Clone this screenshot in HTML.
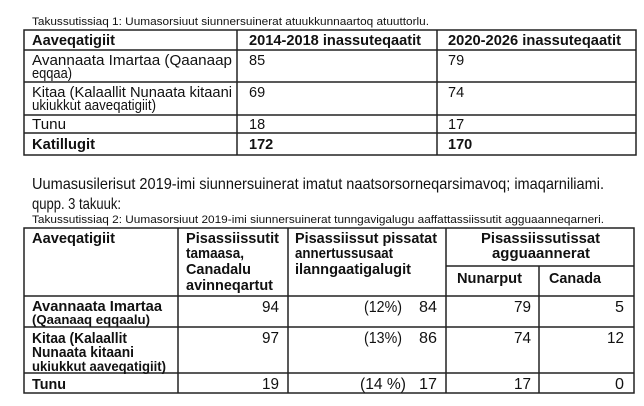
<!DOCTYPE html>
<html><head><meta charset="utf-8"><style>
html,body{margin:0;padding:0;background:#fff;}
svg{display:block;font-family:"Liberation Sans",Arial,sans-serif;fill:#111;}
.b{font-weight:bold;}
</style></head><body>
<svg width="644" height="406" viewBox="0 0 644 406" xmlns="http://www.w3.org/2000/svg">
<g stroke="#222" stroke-width="1.5" fill="none">
<rect x="24" y="30" width="612" height="125"/>
<line x1="237" y1="30" x2="237" y2="155"/>
<line x1="437" y1="30" x2="437" y2="155"/>
<line x1="24" y1="50" x2="636" y2="50"/>
<line x1="24" y1="82" x2="636" y2="82"/>
<line x1="24" y1="115" x2="636" y2="115"/>
<line x1="24" y1="133" x2="636" y2="133"/>
<rect x="24" y="228" width="610" height="165"/>
<line x1="178" y1="228" x2="178" y2="393"/>
<line x1="288" y1="228" x2="288" y2="393"/>
<line x1="446" y1="228" x2="446" y2="393"/>
<line x1="539" y1="266" x2="539" y2="393"/>
<line x1="446" y1="266" x2="634" y2="266"/>
<line x1="24" y1="296" x2="634" y2="296"/>
<line x1="24" y1="327" x2="634" y2="327"/>
<line x1="24" y1="373" x2="634" y2="373"/>
</g>
<g font-size="11">
<text x="32" y="25" textLength="397" lengthAdjust="spacingAndGlyphs">Takussutissiaq 1: Uumasorsiuut siunnersuinerat atuukkunnaartoq atuuttorlu.</text>
<text x="32" y="223" textLength="572" lengthAdjust="spacingAndGlyphs">Takussutissiaq 2: Uumasorsiuut 2019-imi siunnersuinerat tunngavigalugu aaffattassiissutit agguaanneqarneri.</text>
</g>
<g font-size="14.5">
<text class="b" x="32" y="45" textLength="83" lengthAdjust="spacingAndGlyphs">Aaveqatigiit</text>
<text class="b" x="249" y="45" textLength="172" lengthAdjust="spacingAndGlyphs">2014-2018 inassuteqaatit</text>
<text class="b" x="448" y="45" textLength="173" lengthAdjust="spacingAndGlyphs">2020-2026 inassuteqaatit</text>
<text x="32" y="65" textLength="200" lengthAdjust="spacingAndGlyphs">Avannaata  Imartaa  (Qaanaap</text>
<text x="32" y="78" textLength="40" lengthAdjust="spacingAndGlyphs">eqqaa)</text>
<text x="249" y="65">85</text><text x="448" y="65">79</text>
<text x="32" y="97" textLength="200" lengthAdjust="spacingAndGlyphs">Kitaa (Kalaallit Nunaata kitaani</text>
<text x="32" y="110" textLength="124" lengthAdjust="spacingAndGlyphs">ukiukkut aaveqatigiit)</text>
<text x="249" y="97">69</text><text x="448" y="97">74</text>
<text x="32" y="129" textLength="34" lengthAdjust="spacingAndGlyphs">Tunu</text><text x="249" y="129">18</text><text x="448" y="129">17</text>
<text class="b" x="32" y="149" textLength="63" lengthAdjust="spacingAndGlyphs">Katillugit</text><text class="b" x="249" y="149">172</text><text class="b" x="448" y="149">170</text>
</g>
<g font-size="16">
<text x="32" y="189" textLength="572" lengthAdjust="spacingAndGlyphs">Uumasusilerisut 2019-imi siunnersuinerat imatut naatsorsorneqarsimavoq; imaqarniliami.</text>
<text x="32" y="209" textLength="89" lengthAdjust="spacingAndGlyphs">qupp. 3 takuuk:</text>
</g>
<g font-size="15" class="b">
<text x="32" y="243" textLength="83" lengthAdjust="spacingAndGlyphs">Aaveqatigiit</text>
<text x="186" y="243" textLength="93" lengthAdjust="spacingAndGlyphs">Pisassiissutit</text>
<text x="186" y="258" textLength="58" lengthAdjust="spacingAndGlyphs">tamaasa,</text>
<text x="186" y="274" textLength="65" lengthAdjust="spacingAndGlyphs">Canadalu</text>
<text x="186" y="290" textLength="87" lengthAdjust="spacingAndGlyphs">avinneqartut</text>
<text x="295" y="243" textLength="142" lengthAdjust="spacingAndGlyphs">Pisassiissut pissatat</text>
<text x="295" y="258" textLength="98" lengthAdjust="spacingAndGlyphs">annertussusaat</text>
<text x="295" y="274" textLength="116" lengthAdjust="spacingAndGlyphs">ilanngaatigalugit</text>
<text x="481" y="243" textLength="119" lengthAdjust="spacingAndGlyphs">Pisassiissutissat</text>
<text x="492" y="258" textLength="98" lengthAdjust="spacingAndGlyphs">agguaannerat</text>
<text x="457" y="283" textLength="65" lengthAdjust="spacingAndGlyphs">Nunarput</text>
<text x="549" y="283" textLength="52" lengthAdjust="spacingAndGlyphs">Canada</text>
<text x="32" y="311" textLength="130" lengthAdjust="spacingAndGlyphs">Avannaata Imartaa</text>
<text x="32" y="324" font-size="13" textLength="118" lengthAdjust="spacingAndGlyphs">(Qaanaaq eqqaalu)</text>
<text x="32" y="343" textLength="95" lengthAdjust="spacingAndGlyphs">Kitaa (Kalaallit</text>
<text x="32" y="357" textLength="102" lengthAdjust="spacingAndGlyphs">Nunaata kitaani</text>
<text x="32" y="371" font-size="14" textLength="134" lengthAdjust="spacingAndGlyphs">ukiukkut aaveqatigiit)</text>
<text x="32" y="389" textLength="34" lengthAdjust="spacingAndGlyphs">Tunu</text>
</g>
<g font-size="16">
<text x="262" y="312" textLength="17" lengthAdjust="spacingAndGlyphs">94</text><text x="364" y="312" textLength="38" lengthAdjust="spacingAndGlyphs">(12%)</text><text x="419" y="312" textLength="18" lengthAdjust="spacingAndGlyphs">84</text><text x="514" y="312" textLength="17" lengthAdjust="spacingAndGlyphs">79</text><text x="615" y="312" textLength="9" lengthAdjust="spacingAndGlyphs">5</text>
<text x="262" y="343" textLength="17" lengthAdjust="spacingAndGlyphs">97</text><text x="364" y="343" textLength="38" lengthAdjust="spacingAndGlyphs">(13%)</text><text x="419" y="343" textLength="18" lengthAdjust="spacingAndGlyphs">86</text><text x="514" y="343" textLength="17" lengthAdjust="spacingAndGlyphs">74</text><text x="607" y="343" textLength="17" lengthAdjust="spacingAndGlyphs">12</text>
<text x="262" y="389" textLength="17" lengthAdjust="spacingAndGlyphs">19</text><text x="360" y="389" textLength="46" lengthAdjust="spacingAndGlyphs">(14 %)</text><text x="419" y="389" textLength="18" lengthAdjust="spacingAndGlyphs">17</text><text x="514" y="389" textLength="17" lengthAdjust="spacingAndGlyphs">17</text><text x="615" y="389" textLength="9" lengthAdjust="spacingAndGlyphs">0</text>
</g>
</svg>
</body></html>
